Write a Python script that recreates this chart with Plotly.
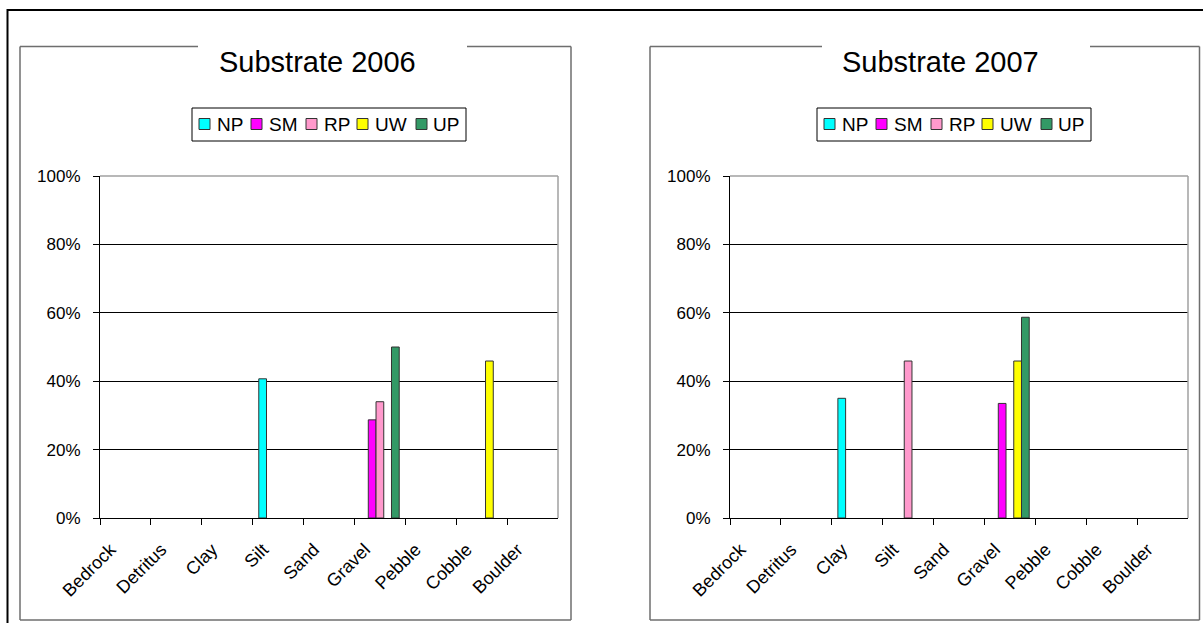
import plotly.graph_objects as go

# ---------------- data ----------------
categories = ["Bedrock", "Detritus", "Clay", "Silt", "Sand", "Gravel", "Pebble", "Cobble", "Boulder"]
series = ["NP", "SM", "RP", "UW", "UP"]

np_2006 = [None, None, None, 0.407, None, None, None, None, None]
sm_2006 = [None, None, None, None, None, 0.287, None, None, None]
rp_2006 = [None, None, None, None, None, 0.340, None, None, None]
uw_2006 = [None, None, None, None, None, None, None, 0.459, None]
up_2006 = [None, None, None, None, None, 0.500, None, None, None]

np_2007 = [None, None, 0.350, None, None, None, None, None, None]
sm_2007 = [None, None, None, None, None, 0.335, None, None, None]
rp_2007 = [None, None, None, 0.459, None, None, None, None, None]
uw_2007 = [None, None, None, None, None, 0.459, None, None, None]
up_2007 = [None, None, None, None, None, 0.587, None, None, None]

titles = ["Substrate 2006", "Substrate 2007"]
y_ticks = [0, 0.2, 0.4, 0.6, 0.8, 1.0]
y_tick_labels = ["0%", "20%", "40%", "60%", "80%", "100%"]

# ---------------- style ----------------
colors = ["#00FFFF", "#FF00FF", "#FF99CC", "#FFFF00", "#339966"]
W, H = 1203, 623
FONT = "Arial, 'Liberation Sans', sans-serif"


def px(x):
    return x / W


def py(y):
    return 1 - y / H


fig = go.Figure()

data_2006 = [np_2006, sm_2006, rp_2006, uw_2006, up_2006]
data_2007 = [np_2007, sm_2007, rp_2007, uw_2007, up_2007]

for vals, name, col in zip(data_2006, series, colors):
    fig.add_trace(go.Bar(x=categories, y=vals, name=name, marker=dict(color=col, line=dict(color="#333333", width=1)),
                         xaxis="x", yaxis="y", showlegend=False))
for vals, name, col in zip(data_2007, series, colors):
    fig.add_trace(go.Bar(x=categories, y=vals, name=name, marker=dict(color=col, line=dict(color="#333333", width=1)),
                         xaxis="x2", yaxis="y2", showlegend=False))

xaxis_common = dict(
    type="category", showline=True, linecolor="black", linewidth=1,
    ticks="outside", tickson="boundaries", ticklen=6, tickcolor="black", tickwidth=1,
    tickangle=-45, tickfont=dict(family=FONT, size=18, color="black"),
    showgrid=False, zeroline=False, fixedrange=True, automargin=False,
    ticklabelstandoff=13, ticklabelshift=-15,
)
yaxis_common = dict(
    range=[0, 1], tickvals=y_ticks, ticktext=y_tick_labels,
    showline=True, linecolor="black", linewidth=1,
    ticks="outside", ticklen=6, tickcolor="black", tickwidth=1,
    tickfont=dict(family=FONT, size=17, color="black"),
    showgrid=True, gridcolor="black", gridwidth=1, zeroline=False, fixedrange=True,
    ticklabelstandoff=9, automargin=False,
)

plot_top, plot_bot = 176, 518
fig.update_layout(
    template="none",
    width=W, height=H, autosize=False,
    margin=dict(l=0, r=0, t=0, b=0, pad=0, autoexpand=False),
    paper_bgcolor="white", plot_bgcolor="white",
    barmode="group", bargap=0.24, bargroupgap=0,
    xaxis=dict(domain=[px(100), px(558)], anchor="y", **xaxis_common),
    yaxis=dict(domain=[py(plot_bot), py(plot_top)], anchor="x", **yaxis_common),
    xaxis2=dict(domain=[px(730), px(1188)], anchor="y2", **xaxis_common),
    yaxis2=dict(domain=[py(plot_bot), py(plot_top)], anchor="x2", **yaxis_common),
    showlegend=False,
)

shapes = []
annotations = []

# outer frame
shapes.append(dict(type="rect", xref="paper", yref="paper", x0=px(7.5), x1=px(1210), y0=py(10), y1=py(640),
                   line=dict(color="black", width=2), layer="below"))

panels = [
    dict(left=20, right=571, top=46.5, bottom=620, gap0=198, gap1=467, title_x=317, dx=0, xa="x", ya="y"),
    dict(left=650, right=1199.5, top=46.5, bottom=620, gap0=822, gap1=1090, title_x=941, dx=625, xa="x2", ya="y2"),
]

legend_marker_x = [199, 251, 306, 357, 416]
legend_text_x = [215, 267, 322, 373, 431]

for p, title in zip(panels, titles):
    gc = "#6e6e6e"
    lw = 1.5
    for (x0, y0, x1, y1) in [
        (p["left"], p["top"], p["left"], p["bottom"]),
        (p["right"], p["top"], p["right"], p["bottom"]),
        (p["left"], p["bottom"], p["right"], p["bottom"]),
        (p["left"], p["top"], p["gap0"], p["top"]),
        (p["gap1"], p["top"], p["right"], p["top"]),
    ]:
        shapes.append(dict(type="line", xref="paper", yref="paper", x0=px(x0), x1=px(x1), y0=py(y0), y1=py(y1),
                           line=dict(color=gc, width=lw)))
    # plot area gray border top & right
    xd = p["xa"] + " domain"
    yd = p["ya"] + " domain"
    shapes.append(dict(type="line", xref=xd, yref=yd, x0=0, x1=1, y0=1, y1=1, line=dict(color="#a0a0a0", width=1.5)))
    shapes.append(dict(type="line", xref=xd, yref=yd, x0=1, x1=1, y0=0, y1=1, line=dict(color="#a0a0a0", width=1.5)))

    # title
    annotations.append(dict(text=title, x=px(p["title_x"]), y=py(62), xref="paper", yref="paper",
                            xanchor="center", yanchor="middle", showarrow=False,
                            font=dict(family=FONT, size=29, color="black")))
    # legend box
    dx = p["dx"]
    shapes.append(dict(type="rect", xref="paper", yref="paper", x0=px(192 + dx), x1=px(466 + dx), y0=py(108), y1=py(141),
                       line=dict(color="black", width=1), fillcolor="white"))
    for name, col, mx, tx in zip(series, colors, legend_marker_x, legend_text_x):
        shapes.append(dict(type="rect", xref="paper", yref="paper", x0=px(mx + dx), x1=px(mx + 11 + dx),
                           y0=py(118.5), y1=py(129.5), line=dict(color="#333333", width=1), fillcolor=col))
        annotations.append(dict(text=name, x=px(tx + dx), y=py(124.5), xref="paper", yref="paper",
                                xanchor="left", yanchor="middle", showarrow=False,
                                font=dict(family=FONT, size=19, color="black")))

fig.update_layout(shapes=shapes, annotations=annotations)

fig.write_html("out.html", config={"displayModeBar": False, "staticPlot": True},
               post_script="document.body.style.margin='0';document.body.style.overflow='hidden';")
